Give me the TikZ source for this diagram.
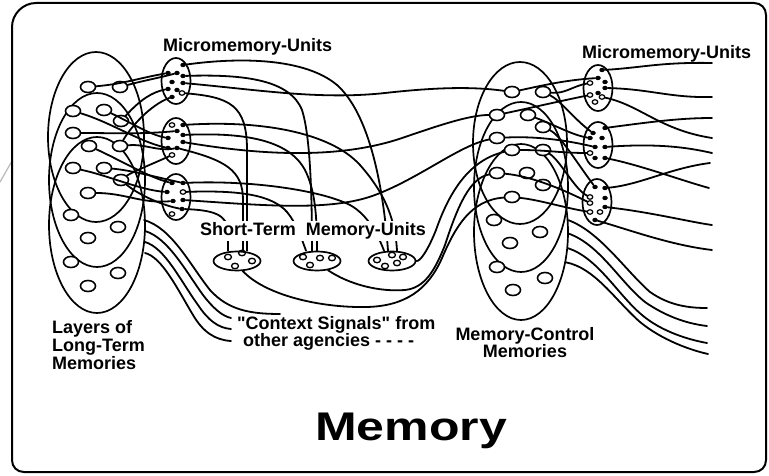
\documentclass[tikz,border=0pt]{standalone}
\usepackage{fontspec}
\setmainfont{Liberation Sans}[Ligatures=TeXOff]
\usetikzlibrary{shapes.geometric}
\begin{document}
\begin{tikzpicture}[x=1pt,y=-1pt,
  wire/.style={line width=1.8pt, line cap=round},
  layer/.style={draw, ellipse, line width=1.7pt, inner sep=0pt},
  cell/.style={draw, ellipse, fill=white, line width=1.6pt, inner sep=0pt, minimum width=15pt, minimum height=11pt},
  unit/.style={draw, ellipse, line width=1.7pt, inner sep=0pt, minimum width=29pt, minimum height=46pt},
  stm/.style={draw, ellipse, fill=white, line width=1.7pt, inner sep=0pt, minimum width=47pt, minimum height=19pt},
  scell/.style={draw, ellipse, line width=1.3pt, inner sep=0pt, minimum width=7pt, minimum height=5.5pt},
  sdot/.style={fill, ellipse, inner sep=0pt, minimum width=5.5pt, minimum height=4.5pt},
  hdot/.style={draw, ellipse, fill=white, line width=1.2pt, inner sep=0pt, minimum width=5.5pt, minimum height=4.5pt},
  lab/.style={font=\fontsize{18}{17.5}\selectfont\bfseries, inner sep=0pt},
]
\useasboundingbox (0,0) rectangle (769,476);

% frame
\draw[gray!55, line width=1.2pt] (0,182) -- (12,161);
\draw[line width=2pt] (12,240) -- (12,27) .. controls (12,14) and (23,3) .. (36,3)
  -- (754,3) .. controls (761,3) and (766,8) .. (766,15)
  -- (766,460) .. controls (766,467) and (761,472) .. (754,472)
  -- (24,472) .. controls (17,472) and (12,467) .. (12,460) -- cycle;

% layers of long-term memories
\node[layer, minimum width=96pt, minimum height=170pt] (LA) at (96,137) {};
\node[layer, minimum width=96pt, minimum height=174pt] (LB) at (97,180) {};
\node[layer, minimum width=96pt, minimum height=176pt] (LC) at (97,225) {};
% memory-control memories
\node[layer, minimum width=94pt, minimum height=162pt] (RA) at (520,143) {};
\node[layer, minimum width=94pt, minimum height=170pt] (RB) at (521,187) {};
\node[layer, minimum width=94pt, minimum height=176pt] (RC) at (521,232) {};

% micromemory-units
\node[unit] (M1) at (176,81) {};
\node[unit] (M2) at (176,141) {};
\node[unit] (M3) at (176,197) {};
\node[unit] (N1) at (598,88) {};
\node[unit] (N2) at (598,145) {};
\node[unit] (N3) at (597,202) {};

% memory cells
\foreach \x/\y [count=\i] in {88/87,120/87,73/111,104/110,121/121,73/133,89/146,120/146,73/168,
  104/168,121/180,88/193,71/215,118/227,88/238,71/262,118/273,88/286}
  \node[cell] (L\i) at (\x,\y) {};
\foreach \x/\y [count=\i] in {512/92,543/92,497/115,528/115,543/127,497/138,512/150,543/150,497/173,
  527/173,543/185,512/197,494/220,540/232,510/243,497/267,545/278,513/290}
  \node[cell] (R\i) at (\x,\y) {};

% short-term memory-units
\node[stm] (ST1) at (237,261) {};
\node[stm] (ST2) at (317,261) {};
\node[stm] (ST3) at (392,261) {};
\foreach \x/\y in {228/257,242/253,252/261,235/266, 303/257,320/258,332/258,310/265,
  377/260,392/255,403/257,385/266,397/263}
  \node[scell] at (\x,\y) {};

% dots inside the micromemory-units
\foreach \dx/\dy/\s [count=\i] in {7/-16/sdot,-8/-8/sdot,1/-8/sdot,7/-5/sdot,-4/1/sdot,7/2/sdot,
  -8/8/sdot,1/9/sdot,6/12/hdot,-4/16/sdot}
  \node[\s] (M1-\i) at (176+\dx,81+\dy) {};
\foreach \dx/\dy/\s [count=\i] in {-4/-16/hdot,7/-16/sdot,1/-10/sdot,7/-6/sdot,-8/-3/sdot,7/1/sdot,
  -8/7/sdot,1/7/sdot,-4/14/hdot}
  \node[\s] (M2-\i) at (176+\dx,141+\dy) {};
\foreach \dx/\dy/\s [count=\i] in {-4/-14/sdot,7/-14/sdot,-9/-5/sdot,7/-5/hdot,-3/4/sdot,6/12/sdot,
  -4/17/hdot,7/3/sdot}
  \node[\s] (M3-\i) at (176+\dx,197+\dy) {};
\foreach \dx/\dy/\s [count=\i] in {4/-18/sdot,0/-10/sdot,7/-6/sdot,-8/-5/hdot,7/0/sdot,0/5/sdot,
  -8/7/hdot,4/9/hdot,-3/14/hdot}
  \node[\s] (N1-\i) at (598+\dx,88+\dy) {};
\foreach \dx/\dy/\s [count=\i] in {7/-17/sdot,-5/-12/sdot,-8/-7/sdot,4/-7/sdot,-3/2/sdot,7/2/sdot,
  -8/8/hdot,-3/13/sdot,7/13/sdot}
  \node[\s] (N2-\i) at (598+\dx,145+\dy) {};
\foreach \dx/\dy/\s [count=\i] in {-2/-15/sdot,8/-14/sdot,-7/-5/hdot,8/-4/sdot,-7/1/hdot,8/5/sdot,
  -7/10/hdot,3/10/hdot,-2/18/sdot}
  \node[\s] (N3-\i) at (597+\dx,202+\dy) {};

% long-term cells to left micromemory-units
\draw[wire] (L1) to[out=5,in=190] (M1-2);
\draw[wire] (L2) to[out=15,in=195] (M1-3);
\draw[wire] (L5) .. controls (140,100) and (152,92) .. (M1-7);
\draw[wire] (L4) .. controls (130,122) and (150,135) .. (M2-5);
\draw[wire] (L3) .. controls (110,122) and (140,142) .. (M2-7);
\draw[wire] (L6) to[out=0,in=185] (M2-3);
\draw[wire] (L8) to[out=5,in=190] (M2-8);
\draw[wire] (L7) .. controls (120,160) and (150,178) .. (M3-1);
\draw[wire] (L9) .. controls (110,176) and (140,190) .. (M3-3);
\draw[wire] (L10) .. controls (130,170) and (160,178) .. (M3-2);
\draw[wire] (L12) to[out=0,in=185] (M3-5);
\draw[wire] (L11) .. controls (140,196) and (165,206) .. (M3-6);
\draw[wire] (M1-10) .. controls (150,105) and (130,128) .. (L8);
\draw[wire] (M2-9) .. controls (150,165) and (132,172) .. (L11);

% left micromemory-units to the short-term units and across
\draw[wire] (M1-1) .. controls (240,57) and (305,58) .. (337,85) .. controls (365,110) and (382,170) .. ([xshift=-4pt]ST3.north);
\draw[wire] (M1-4) .. controls (245,74) and (290,80) .. (302,110) .. controls (310,135) and (312,190) .. ([xshift=-5pt]ST2.north);
\draw[wire] (M1-6) .. controls (260,90) and (320,100) .. (385,93) .. controls (430,88) and (470,86) .. (R1);
\draw[wire] (M1-9) .. controls (230,97) and (247,105) .. (247,150) -- ([xshift=10pt]ST1.north);
\draw[wire] (M2-2) .. controls (260,120) and (330,132) .. (360,165) .. controls (382,190) and (395,215) .. ([xshift=5pt]ST3.north);
\draw[wire] (M2-4) .. controls (250,132) and (290,142) .. (305,170) .. controls (315,190) and (317,215) .. (ST2.north);
\draw[wire] (M2-6) .. controls (260,155) and (340,160) .. (405,137) .. controls (440,125) and (470,115) .. (R3);
\draw[wire] (M2-8) .. controls (225,160) and (243,170) .. (243,200) -- ([xshift=6pt]ST1.north);
\draw[wire] (M3-2) .. controls (250,180) and (320,190) .. (350,205) .. controls (368,215) and (378,235) .. ([xshift=-8pt]ST3.north);
\draw[wire] (M3-4) .. controls (240,190) and (272,195) .. (287,212) .. controls (297,224) and (302,240) .. ([xshift=-11pt]ST2.north);
\draw[wire] (M3-8) .. controls (260,205) and (330,212) .. (375,195) .. controls (420,178) and (460,145) .. (R6);
\draw[wire] (M3-6) .. controls (212,210) and (228,214) .. (228,232) -- ([xshift=-9pt]ST1.north);

% short-term units back up into the memory-control memories
\draw[wire] (ST1.-60) .. controls (265,295) and (320,308) .. (367,307) .. controls (405,306) and (428,290) .. (442,258) .. controls (455,228) and (470,200) .. (R12);
\draw[wire] (ST2.-40) .. controls (350,285) and (380,292) .. (405,290) .. controls (425,288) and (435,270) .. (445,245) .. controls (458,205) and (470,178) .. (R9);
\draw[wire] (ST3.east) .. controls (420,262) and (428,250) .. (436,230) .. controls (450,190) and (470,160) .. (R7);

% context signals
\coordinate (cx1) at (144,220); \coordinate (ce1) at (280,314);
\coordinate (cx2) at (145,231); \coordinate (ce2) at (231,318);
\coordinate (cx3) at (145,242); \coordinate (ce3) at (231,329);
\coordinate (cx4) at (145,253); \coordinate (ce4) at (231,341);
\draw[wire] (cx1) .. controls (172,228) and (190,265) .. (210,290) .. controls (228,310) and (250,314) .. (ce1);
\draw[wire] (cx2) .. controls (168,238) and (185,270) .. (203,295) .. controls (213,308) and (222,316) .. (ce2);
\draw[wire] (cx3) .. controls (165,248) and (180,280) .. (198,305) .. controls (208,320) and (218,328) .. (ce3);
\draw[wire] (cx4) .. controls (162,257) and (178,290) .. (193,315) .. controls (203,332) and (215,340) .. (ce4);

% memory-control cells to right micromemory-units
\draw[wire] (R1) .. controls (540,86) and (565,80) .. (N1-2);
\draw[wire] (R2) to[out=-5,in=190] (N1-4);
\draw[wire] (R3) .. controls (530,108) and (565,100) .. (N1-7);
\draw[wire] (R2) .. controls (560,100) and (575,120) .. (N2-2);
\draw[wire] (R4) .. controls (555,125) and (572,135) .. (N2-3);
\draw[wire] (R6) .. controls (535,136) and (565,140) .. (N2-5);
\draw[wire] (R7) to[out=0,in=180] (N2-7);
\draw[wire] (R5) .. controls (560,135) and (575,160) .. (N3-1);
\draw[wire] (R8) .. controls (560,160) and (575,190) .. (N3-3);
\draw[wire] (R9) .. controls (530,176) and (560,188) .. (N3-5);
\draw[wire] (R12) .. controls (540,200) and (565,208) .. (N3-7);

% right micromemory-units outputs
\foreach \n/\x/\y in {o1/712/63,o2/712/97,o3/712/138,o4/712/118,o5/712/153,o6/709/188,
  o7/710/163,o8/712/225,o9/712/250,b1/707/308,b2/707/326,b3/707/343,b4/708/354}
  \coordinate (\n) at (\x,\y);
\draw[wire] (N1-1) .. controls (640,68) and (660,62) .. (o1);
\draw[wire] (N1-5) .. controls (650,89) and (670,98) .. (o2);
\draw[wire] (N1-8) .. controls (640,105) and (660,130) .. (o3);
\draw[wire] (N2-1) .. controls (650,122) and (680,118) .. (o4);
\draw[wire] (N2-6) .. controls (660,143) and (690,148) .. (o5);
\draw[wire] (N2-9) .. controls (640,165) and (680,180) .. (o6);
\draw[wire] (N3-2) .. controls (640,185) and (670,168) .. (o7);
\draw[wire] (N3-6) .. controls (650,212) and (690,222) .. (o8);
\draw[wire] (N3-9) .. controls (630,230) and (670,245) .. (o9);
\draw[wire] (RC.14) .. controls (600,232) and (625,270) .. (650,292) .. controls (670,306) and (690,308) .. (b1);
\draw[wire] (RC.-2) .. controls (600,245) and (620,282) .. (645,302) .. controls (668,318) and (690,324) .. (b2);
\draw[wire] (RC.-19) .. controls (598,258) and (618,295) .. (642,315) .. controls (662,332) and (690,340) .. (b3);
\draw[wire] (RC.-34) .. controls (595,268) and (615,300) .. (640,322) .. controls (662,340) and (690,350) .. (b4);

% labels
\node[lab, anchor=base west] (t1) at (163,52) {Micromemory-Units};
\node[lab, anchor=base west] (t2) at (582,59) {Micromemory-Units};
\node[lab, anchor=base west, fill=white, inner sep=1.5pt] (t3) at (198.5,236) {Short-Term\hspace{5pt} Memory-Units};
\node[lab, anchor=base west] (t4) at (237,329) {"Context Signals" from};
\node[lab, anchor=base west] (t5) at (243,346) {other agencies - - - -};
\node[lab, anchor=base west] (t6) at (52,333) {Layers of};
\node[lab, anchor=base west] (t7) at (52,351) {Long-Term};
\node[lab, anchor=base west] (t8) at (52,369) {Memories};
\node[lab, anchor=base] (t9) at (525,340) {Memory-Control};
\node[lab, anchor=base] (t10) at (525,357) {Memories};
\node[font=\fontsize{40}{40}\selectfont\bfseries, inner sep=0pt, anchor=base] (title) at (411,440) {\scalebox{1.25}[1]{Memory}};
\end{tikzpicture}
\end{document}
